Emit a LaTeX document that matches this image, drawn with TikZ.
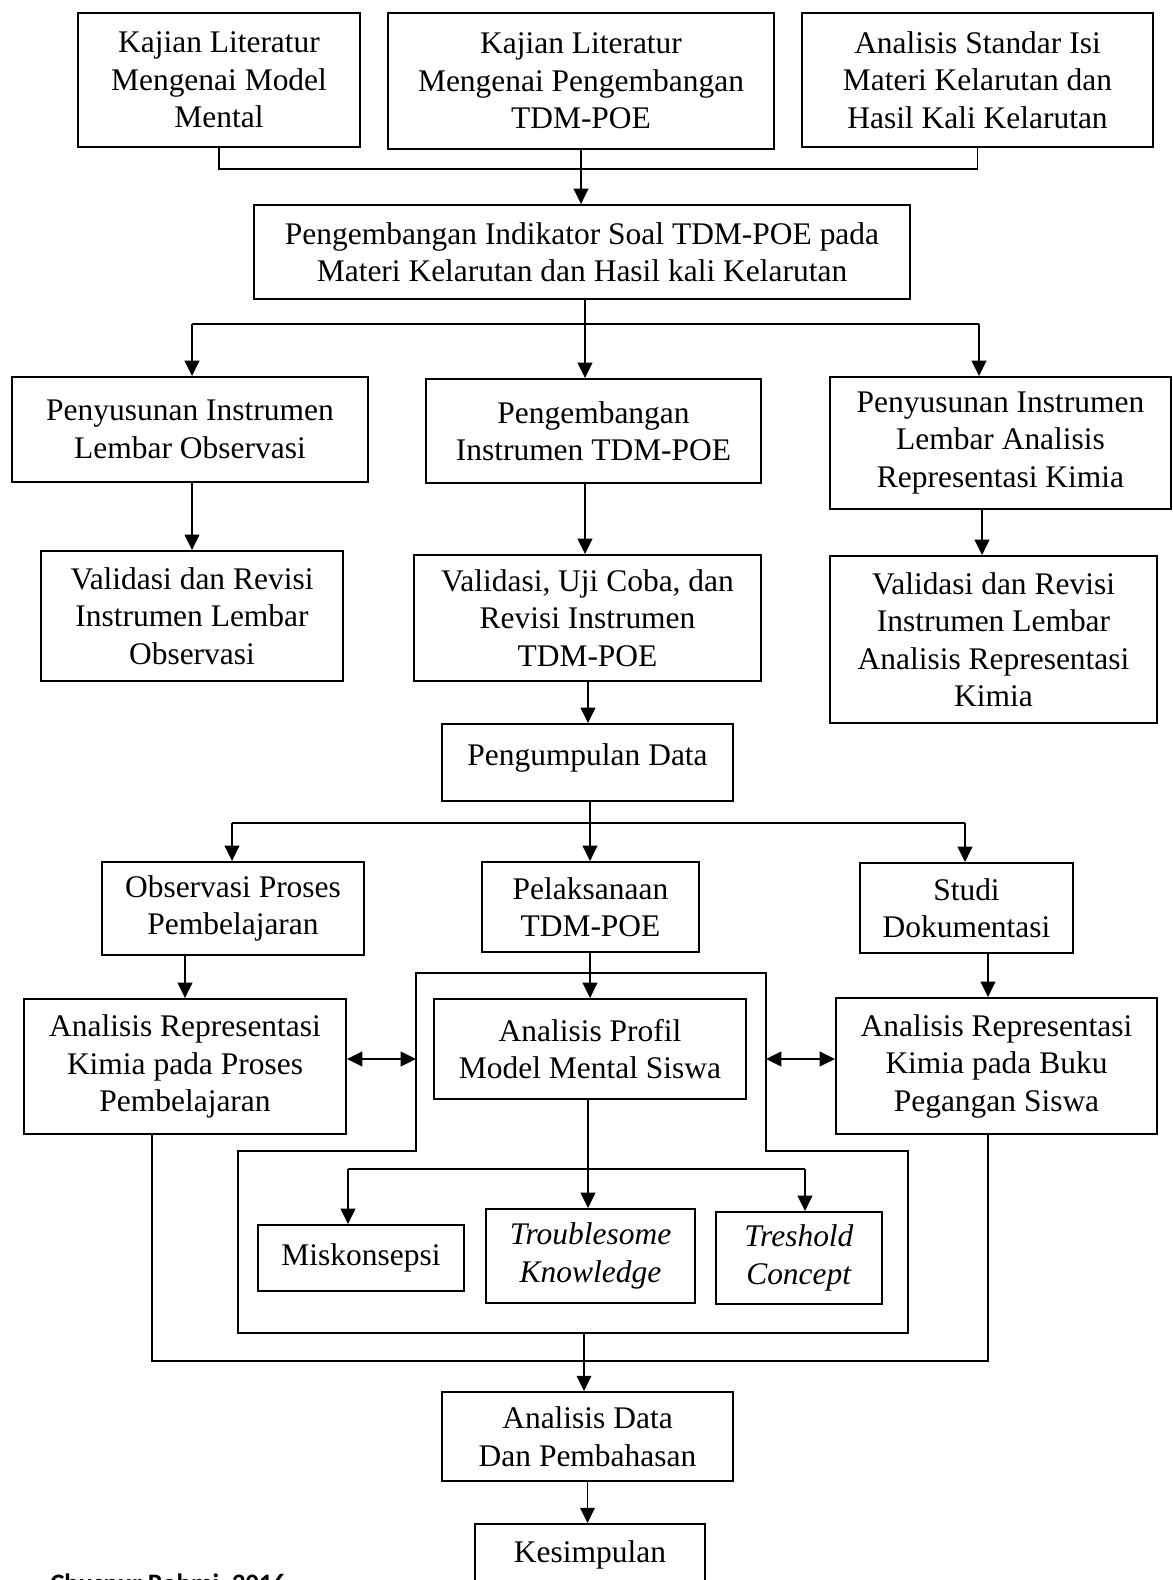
\documentclass[tikz,border=0pt]{standalone}
\usepackage{fontspec}
\setmainfont{Liberation Serif}
\newfontfamily\footfont{Carlito}
\usetikzlibrary{arrows.meta}
\newcommand{\mainfs}{\fontsize{23.6}{28.1}\selectfont}
\begin{document}
\begin{tikzpicture}[x=0.75pt,y=-0.75pt,
  box/.style 2 args={draw, line width=1.4pt, minimum width=#1*0.75pt, minimum height=#2*0.75pt, inner sep=0pt, align=center, font=\mainfs},
  line/.style={line width=1.4pt},
  arr/.style={line width=1.4pt, -{Triangle[length=11.5pt,width=11pt]}},
  darr/.style={line width=1.4pt, {Triangle[length=11.5pt,width=11pt]}-{Triangle[length=11.5pt,width=11pt]}}]
\useasboundingbox (0,0) rectangle (1173,1580);
\clip (0,0) rectangle (1173,1580);
\fill[white] (0,0) rectangle (1173,1580);

% boxes
\node[box={282}{134}] (A) at (219,80) {Kajian Literatur\\Mengenai Model\\Mental};
\node[box={386}{136}] (B) at (581,81) {Kajian Literatur\\Mengenai Pengembangan\\TDM-POE};
\node[box={351}{134}] (C) at (977.5,80) {Analisis Standar Isi\\Materi Kelarutan dan\\Hasil Kali Kelarutan};
\node[box={656}{94}] (D) at (582,252) {Pengembangan Indikator Soal TDM-POE pada\\Materi Kelarutan dan Hasil kali Kelarutan};
\node[box={356}{105}] (E) at (190,429.5) {Penyusunan Instrumen\\Lembar Observasi};
\node[box={335}{104}] (F) at (593.5,431) {Pengembangan\\Instrumen TDM-POE};
\node[box={341}{132}] (G) at (1000.5,443) {Penyusunan Instrumen\\Lembar Analisis\\Representasi Kimia};
\node[box={302}{130}] (H) at (192,616) {Validasi dan Revisi\\Instrumen Lembar\\Observasi};
\node[box={347}{126}] (I) at (587.5,618) {Validasi, Uji Coba, dan\\Revisi Instrumen\\TDM-POE};
\node[box={327}{167}] (J) at (993.5,639.5) {Validasi dan Revisi\\Instrumen Lembar\\Analisis Representasi\\Kimia};
\node[box={291}{77}, text depth=12pt] (K) at (587.5,762.5) {Pengumpulan Data};
\node[box={262}{93}] (L) at (233,908.5) {Observasi Proses\\Pembelajaran};
\node[box={217}{90}] (M) at (590.5,907) {Pelaksanaan\\TDM-POE};
\node[box={213}{90}] (N) at (966.5,908) {Studi\\Dokumentasi};
\node[box={322}{135}] (O) at (185,1066.5) {Analisis Representasi\\Kimia pada Proses\\Pembelajaran};
\node[box={312}{100}] (P) at (590,1049) {Analisis Profil\\Model Mental Siswa};
\node[box={321}{136}] (Q) at (996.5,1066) {Analisis Representasi\\Kimia pada Buku\\Pegangan Siswa};
\node[box={206}{66}] (R) at (361,1258) {Miskonsepsi};
\node[box={209}{94}] (S) at (590.5,1256) {\textit{Troublesome}\\\textit{Knowledge}};
\node[box={166}{92}] (T) at (799,1258) {\textit{Treshold}\\\textit{Concept}};
\node[box={291}{89}] (U) at (587.5,1436.5) {Analisis Data\\Dan Pembahasan};
\node[box={230}{62}] (V) at (590,1555) {Kesimpulan};

% top merge
\coordinate (m1) at (580,169);
\draw[line] (A.south) |- (m1) -| (C.south);
\draw[arr] (B.south) -- (B.south |- D.north);

% second branch
\coordinate (b2) at (585,324);
\coordinate (b2l) at (192,324);
\coordinate (b2r) at (979,324);
\draw[line] (b2l) -- (b2r);
\draw[arr] (D.south -| b2) -- (b2 |- F.north);
\draw[arr] (b2l) -- (b2l |- E.north);
\draw[arr] (b2r) -- (b2r |- G.north);

\coordinate (xE) at (192,0);
\coordinate (xF) at (585,0);
\coordinate (xG) at (982,0);
\coordinate (xI) at (588,0);
\draw[arr] (E.south -| xE) -- (H.north -| xE);
\draw[arr] (F.south -| xF) -- (I.north -| xF);
\draw[arr] (G.south -| xG) -- (J.north -| xG);
\draw[arr] (I.south -| xI) -- (K.north -| xI);

% third branch
\coordinate (b3) at (590,823);
\coordinate (b3l) at (232,823);
\coordinate (b3r) at (965,823);
\draw[line] (b3l) -- (b3r);
\draw[arr] (K.south -| b3) -- (b3 |- M.north);
\draw[arr] (b3l) -- (b3l |- L.north);
\draw[arr] (b3r) -- (b3r |- N.north);

\coordinate (xO) at (185,0);
\coordinate (xQ) at (988,0);
\draw[arr] (L.south -| xO) -- (O.north -| xO);
\draw[arr] (M.south -| b3) -- (P.north -| b3);
\draw[arr] (N.south -| xQ) -- (Q.north -| xQ);

% frame
\draw[line] (416,973) -- (766,973) -- (766,1151) -- (908,1151) -- (908,1333) -- (238,1333) -- (238,1151) -- (416,1151) -- cycle;
\coordinate (fl) at (416,1059);
\coordinate (fr) at (766,1059);
\draw[darr] (O.east |- fl) -- (fl);
\draw[darr] (fr) -- (Q.west |- fr);

% inner branch
\coordinate (b4) at (588,1169);
\coordinate (b4l) at (348,1169);
\coordinate (b4r) at (805,1169);
\draw[line] (b4l) -- (b4r);
\draw[arr] (P.south -| b4) -- (b4 |- S.north);
\draw[arr] (b4l) -- (b4l |- R.north);
\draw[arr] (b4r) -- (b4r |- T.north);

% bottom merge
\coordinate (m5) at (0,1361);
\coordinate (xOb) at (152,0);
\draw[line] (O.south -| xOb) |- (m5 -| xQ) -- (Q.south -| xQ);
\coordinate (fb) at (584,1333);
\draw[arr] (fb) -- (fb |- U.north);
\draw[arr] (U.south) -- (U.south |- V.north);

% footer
\node[anchor=base west, inner sep=0pt, font=\footfont\bfseries\fontsize{20}{24}\selectfont] (foot) at (50,1592) {Chusnur Rohmi, 2016};
\end{tikzpicture}
\end{document}
